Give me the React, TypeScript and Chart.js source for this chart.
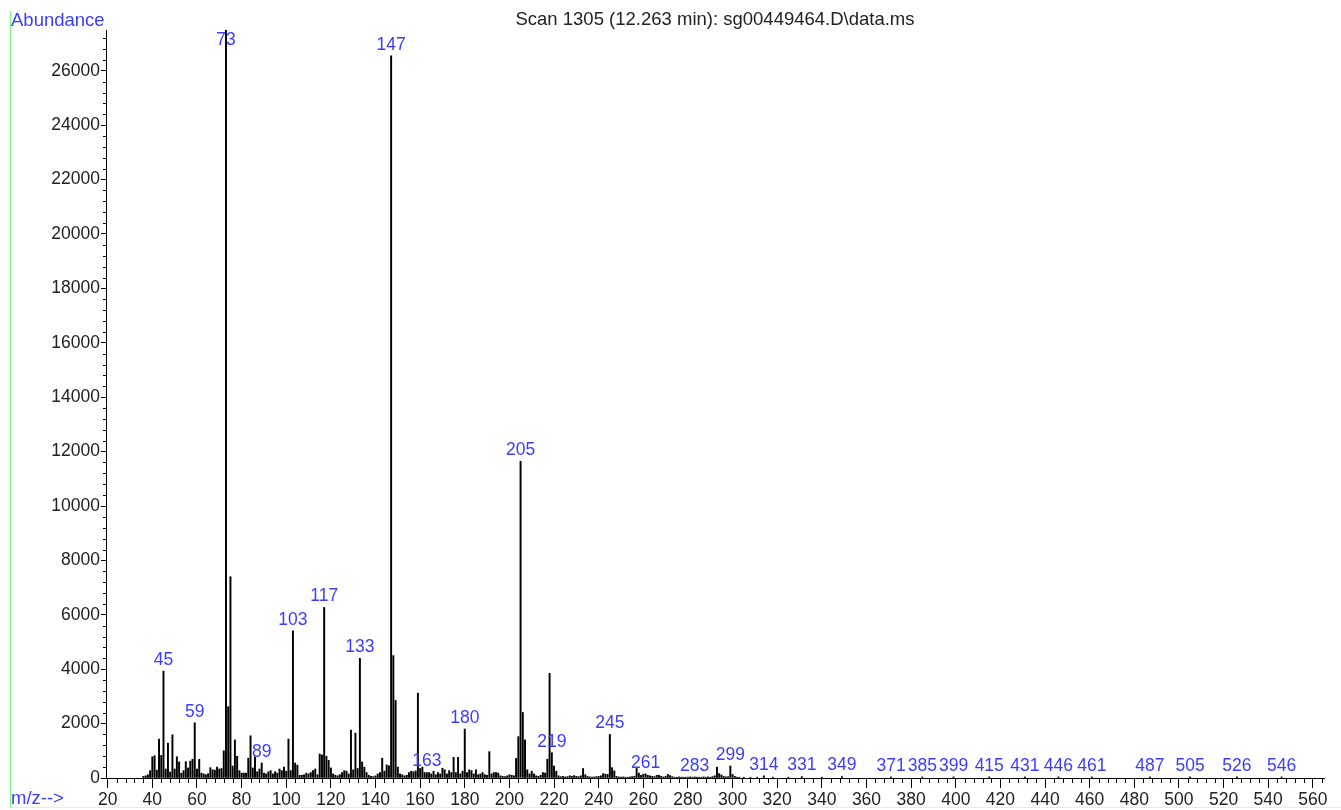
import React, { useEffect, useRef } from "react";
import { Chart, registerables } from "chart.js";

Chart.register(...registerables);

const TITLE = "Scan 1305 (12.263 min): sg00449464.D\\data.ms";
const Y_LABEL = "Abundance";
const X_LABEL = "m/z-->";

// m/z values of the spectrum lines
const peakMz = [
  36, 37, 38, 39, 40, 41, 42, 43, 44, 45, 46, 47, 48, 49, 50, 51, 52, 53, 54, 55,
  56, 57, 58, 59, 60, 61, 62, 63, 64, 65, 66, 67, 68, 69, 70, 71, 72, 73, 74, 75,
  76, 77, 78, 79, 80, 81, 82, 83, 84, 85, 86, 87, 88, 89, 90, 91, 92, 93, 94, 95,
  96, 97, 98, 99, 100, 101, 102, 103, 104, 105, 106, 107, 108, 109, 110, 111, 112, 113, 114, 115,
  116, 117, 118, 119, 120, 121, 122, 123, 124, 125, 126, 127, 128, 129, 130, 131, 132, 133, 134, 135,
  136, 137, 138, 139, 140, 141, 142, 143, 144, 145, 146, 147, 148, 149, 150, 151, 152, 153, 154, 155,
  156, 157, 158, 159, 160, 161, 162, 163, 164, 165, 166, 167, 168, 169, 170, 171, 172, 173, 174, 175,
  176, 177, 178, 179, 180, 181, 182, 183, 184, 185, 186, 187, 188, 189, 190, 191, 192, 193, 194, 195,
  196, 197, 198, 199, 200, 201, 202, 203, 204, 205, 206, 207, 208, 209, 210, 211, 212, 213, 214, 215,
  216, 217, 218, 219, 220, 221, 222, 223, 224, 225, 226, 227, 228, 229, 230, 231, 232, 233, 234, 235,
  236, 237, 238, 239, 240, 241, 242, 243, 244, 245, 246, 247, 248, 249, 250, 251, 252, 253, 254, 255,
  256, 257, 258, 259, 260, 261, 262, 263, 264, 265, 266, 267, 268, 269, 270, 271, 272, 273, 274, 275,
  276, 277, 278, 279, 280, 281, 282, 283, 284, 285, 286, 287, 288, 289, 290, 291, 292, 293, 294, 295,
  296, 297, 298, 299, 300, 301, 302, 303, 305, 308, 311, 314, 318, 325, 331, 340, 349, 371, 385, 399,
  415, 431, 446, 461, 487, 505, 526, 546,
];

// abundance of each line (same order as peakMz)
const peakAbundance = [
  60, 80, 120, 270, 780, 820, 290, 1430, 830, 3930, 330, 1280, 220, 1590, 330, 780, 590, 180, 270, 600,
  370, 620, 690, 2030, 330, 690, 180, 150, 120, 160, 380, 300, 290, 400, 330, 350, 1000, 27500, 2620, 7400,
  440, 1400, 800, 270, 180, 180, 180, 730, 1550, 370, 780, 230, 330, 550, 180, 150, 230, 270, 150, 230,
  180, 330, 270, 400, 250, 1430, 270, 5410, 550, 470, 100, 100, 120, 180, 150, 200, 270, 330, 120, 880,
  850, 6270, 800, 650, 370, 150, 100, 80, 120, 200, 270, 250, 150, 1760, 300, 1650, 350, 4400, 590, 400,
  200, 100, 60, 50, 80, 150, 200, 730, 250, 480, 450, 26550, 4500, 2850, 400, 150, 120, 80, 100, 200,
  250, 230, 260, 3120, 350, 400, 200, 200, 200, 150, 250, 120, 200, 150, 360, 300, 150, 270, 200, 760,
  200, 760, 150, 250, 1800, 200, 300, 270, 150, 300, 120, 150, 200, 120, 100, 970, 150, 200, 200, 180,
  80, 60, 50, 80, 120, 100, 80, 720, 1520, 11640, 2410, 1400, 300, 150, 250, 150, 80, 60, 100, 200,
  180, 690, 3850, 930, 440, 250, 80, 50, 60, 40, 50, 80, 60, 90, 60, 50, 80, 350, 120, 60,
  40, 30, 40, 50, 60, 80, 160, 140, 130, 1600, 380, 260, 60, 40, 30, 40, 30, 30, 40, 50,
  60, 350, 180, 100, 140, 150, 100, 80, 60, 50, 100, 100, 60, 40, 60, 130, 90, 50, 30, 30,
  40, 30, 30, 30, 30, 40, 30, 40, 30, 30, 30, 40, 30, 40, 30, 50, 80, 400, 160, 110,
  60, 40, 50, 440, 130, 60, 30, 30, 30, 30, 30, 80, 30, 30, 50, 30, 50, 40, 40, 40,
  40, 40, 40, 40, 40, 40, 40, 40,
];

// lines annotated with their m/z
const labeledMz = [
  45, 59, 73, 89, 103, 117, 133, 147, 163, 180, 205, 219, 245, 261, 283, 299, 314,
  331, 349, 371, 385, 399, 415, 431, 446, 461, 487, 505, 526, 546,
];

const xTickValues = [
  20, 40, 60, 80, 100, 120, 140, 160, 180, 200, 220, 240, 260, 280, 300, 320, 340,
  360, 380, 400, 420, 440, 460, 480, 500, 520, 540, 560,
];
const yTickValues = [
  0, 2000, 4000, 6000, 8000, 10000, 12000, 14000, 16000, 18000, 20000, 22000, 24000, 26000,
];

const X_MIN = 19.24;
const X_MAX = 565;
const Y_MAX = 27500;
const X_MINOR_STEP = 4;
const Y_MINOR_STEP = 400;

const FONT_FAMILY = '"Liberation Sans", Arial, Helvetica, sans-serif';
const FONT_SIZE = 17.5;
const CAPTION_SIZE = 18.5;
const BLUE = "#3c3cff";
const TEXT = "#222222";

const decorPlugin = {
  id: "decor",
  afterDraw(chart: any) {
    const { ctx, chartArea } = chart;
    const x = chart.scales.x;
    const y = chart.scales.y;
    ctx.save();

    // minor ticks
    ctx.strokeStyle = "#000";
    ctx.lineWidth = 1;
    ctx.beginPath();
    for (let v = xTickValues[0]; v <= X_MAX; v += X_MINOR_STEP) {
      if (xTickValues.includes(v)) continue;
      const px = Math.round(x.getPixelForValue(v)) + 0.5;
      ctx.moveTo(px, chartArea.bottom);
      ctx.lineTo(px, chartArea.bottom + 5);
    }
    for (let v = 0; v <= Y_MAX; v += Y_MINOR_STEP) {
      if (yTickValues.includes(v)) continue;
      const py = Math.round(y.getPixelForValue(v)) + 0.5;
      ctx.moveTo(chartArea.left - 3, py);
      ctx.lineTo(chartArea.left, py);
    }
    ctx.stroke();

    // peak labels
    ctx.font = `${FONT_SIZE}px ${FONT_FAMILY}`;
    ctx.fillStyle = BLUE;
    ctx.textAlign = "center";
    ctx.textBaseline = "middle";
    labeledMz.forEach((m) => {
      const idx = peakMz.indexOf(m);
      if (idx < 0) return;
      const px = x.getPixelForValue(m);
      const py = Math.max(y.getPixelForValue(peakAbundance[idx]) - 11, chartArea.top + 10);
      ctx.fillText(String(m), px, py);
    });

    // title and axis captions
    ctx.font = `${CAPTION_SIZE}px ${FONT_FAMILY}`;
    ctx.textBaseline = "alphabetic";
    ctx.textAlign = "left";
    ctx.fillText(Y_LABEL, 11, 26);
    ctx.fillText(X_LABEL, 11, 804);
    ctx.fillStyle = TEXT;
    ctx.textAlign = "center";
    ctx.fillText(TITLE, (chartArea.left + chartArea.right) / 2, 25);

    ctx.restore();
  },
};

export default function App() {
  const canvasRef = useRef<HTMLCanvasElement | null>(null);

  useEffect(() => {
    if (!canvasRef.current) return;
    const points = peakMz.map((m, i) => ({ x: m, y: peakAbundance[i] }));
    const chart = new Chart(canvasRef.current, {
      type: "bar",
      data: {
        datasets: [
          {
            data: points as any,
            backgroundColor: "#000000",
            borderWidth: 0,
            barThickness: 1.3,
          },
        ],
      },
      options: {
        animation: false,
        responsive: false,
        maintainAspectRatio: false,
        events: [],
        layout: { padding: { top: 30, right: 17, left: 0, bottom: 0 } },
        scales: {
          x: {
            type: "linear",
            min: X_MIN,
            max: X_MAX,
            offset: false,
            afterBuildTicks: (scale: any) => {
              scale.ticks = xTickValues.map((v) => ({ value: v }));
            },
            afterFit: (scale: any) => {
              scale.height = 32;
            },
            grid: {
              offset: false,
              drawOnChartArea: false,
              drawTicks: true,
              tickLength: 10,
              color: "#000",
              lineWidth: 1,
            },
            border: { color: "#000", width: 1 },
            ticks: {
              autoSkip: false,
              maxRotation: 0,
              padding: 2,
              color: TEXT,
              font: { family: FONT_FAMILY, size: FONT_SIZE },
              callback: (v: any) => String(v),
            },
          },
          y: {
            type: "linear",
            min: 0,
            max: Y_MAX,
            afterBuildTicks: (scale: any) => {
              scale.ticks = yTickValues.map((v) => ({ value: v }));
            },
            afterFit: (scale: any) => {
              scale.width = 106;
            },
            grid: {
              drawOnChartArea: false,
              drawTicks: true,
              tickLength: 5,
              color: "#000",
              lineWidth: 1,
            },
            border: { color: "#000", width: 1 },
            ticks: {
              padding: 1,
              color: TEXT,
              font: { family: FONT_FAMILY, size: FONT_SIZE },
              callback: (v: any) => String(v),
            },
          },
        },
        plugins: {
          legend: { display: false },
          tooltip: { enabled: false },
          title: { display: false },
        },
      },
      plugins: [decorPlugin],
    });
    return () => chart.destroy();
  }, []);

  return (
    <div
      style={{
        position: "absolute",
        left: 0,
        top: 0,
        width: 1341,
        height: 810,
        background: "#ffffff",
        overflow: "hidden",
      }}
    >
      <div
        style={{
          position: "absolute",
          left: 10,
          top: 11,
          width: 1331,
          height: 797,
          borderLeft: "1.5px solid #80f080",
          borderBottom: "1px solid #d8f5d8",
          boxSizing: "border-box",
        }}
      />
      <canvas
        ref={canvasRef}
        width={1341}
        height={810}
        style={{ position: "absolute", left: 0, top: 0, width: 1341, height: 810 }}
      />
    </div>
  );
}
